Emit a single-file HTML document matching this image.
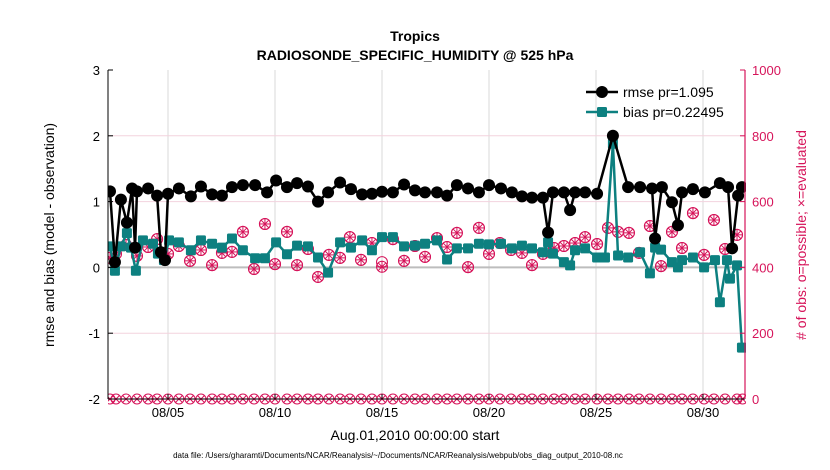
<!DOCTYPE html>
<html><head><meta charset="utf-8"><style>
html,body{margin:0;padding:0;background:#fff;}
svg{display:block;font-family:"Liberation Sans",Arial,sans-serif;}
</style></head><body>
<svg id="chart" width="830" height="470" viewBox="0 0 830 470">
<defs><clipPath id="plotclip"><rect x="108" y="66" width="638" height="340"/></clipPath></defs>
<text x="415" y="41" text-anchor="middle" font-size="14" font-weight="bold">Tropics</text>
<text x="415" y="60" text-anchor="middle" font-size="14" font-weight="bold">RADIOSONDE_SPECIFIC_HUMIDITY @ 525 hPa</text>
<g id="grid"></g>
<g id="marks" clip-path="url(#plotclip)"></g>
<g id="axes"></g>
<text transform="translate(54,235) rotate(-90)" text-anchor="middle" font-size="14">rmse and bias (model - observation)</text>
<text transform="translate(806,235) rotate(-90)" text-anchor="middle" font-size="14" fill="#d6145a"># of obs: o=possible; ×=evaluated</text>
<text x="415" y="440" text-anchor="middle" font-size="14">Aug.01,2010 00:00:00 start</text>
<text x="398" y="458" text-anchor="middle" font-size="8">data file: /Users/gharamti/Documents/NCAR/Reanalysis/~/Documents/NCAR/Reanalysis/webpub/obs_diag_output_2010-08.nc</text>
<g id="legend"></g>
</svg>
<script>
const rmseDays=[2.29,2.52,2.80,3.08,3.32,3.46,3.55,4.07,4.49,4.67,4.86,5.00,5.51,6.07,6.54,7.06,7.52,7.99,8.50,9.07,9.63,10.05,10.56,11.03,11.54,12.01,12.48,13.04,13.55,14.07,14.53,15.00,15.51,16.03,16.54,17.01,17.57,18.04,18.50,19.02,19.53,20.00,20.56,21.07,21.54,22.01,22.52,22.76,22.99,23.50,23.79,24.02,24.49,25.05,25.79,26.50,27.06,27.62,27.76,28.08,28.55,28.83,29.02,29.53,30.09,30.79,31.17,31.36,31.64,31.82];
const rmseVals=[1.155,0.08,1.03,0.68,1.20,0.30,1.155,1.20,1.09,0.23,0.11,1.12,1.20,1.08,1.23,1.11,1.09,1.22,1.25,1.25,1.14,1.32,1.22,1.28,1.23,1.00,1.14,1.29,1.19,1.11,1.12,1.15,1.14,1.26,1.17,1.14,1.14,1.09,1.25,1.20,1.14,1.25,1.20,1.14,1.08,1.06,1.06,0.53,1.14,1.14,0.87,1.14,1.14,1.12,2.00,1.22,1.22,1.20,0.44,1.22,0.99,0.64,1.14,1.19,1.14,1.28,1.22,0.29,1.09,1.22];
const biasDays=[2.29,2.52,2.80,3.08,3.27,3.50,3.83,4.30,4.53,4.81,5.05,5.51,6.07,6.54,7.06,7.52,7.99,8.50,9.07,9.53,10.05,10.56,11.03,11.54,12.01,12.48,13.04,13.55,14.07,14.53,15.00,15.51,16.03,16.54,17.01,17.57,18.04,18.50,19.02,19.53,20.00,20.56,21.07,21.54,22.01,22.52,22.76,22.99,23.50,23.79,24.02,24.49,25.05,25.42,25.79,26.03,26.50,27.06,27.52,27.76,28.04,28.55,28.83,29.02,29.53,30.05,30.56,30.79,31.12,31.26,31.59,31.82];
const biasVals=[0.32,-0.05,0.32,0.52,0.30,-0.05,0.41,0.36,0.21,0.11,0.41,0.38,0.26,0.41,0.36,0.30,0.44,0.26,0.14,0.14,0.38,0.20,0.33,0.32,0.15,-0.08,0.38,0.30,0.41,0.26,0.46,0.46,0.32,0.33,0.36,0.41,0.12,0.29,0.29,0.36,0.35,0.36,0.29,0.33,0.29,0.23,0.38,0.21,0.08,0.03,0.26,0.29,0.15,0.15,1.88,0.18,0.15,0.23,-0.09,0.30,0.27,0.08,0.00,0.11,0.15,0.00,0.11,-0.53,0.11,-0.17,0.03,-1.22];
const obsDays=[2.29,2.57,3.04,3.55,4.07,4.49,5.00,5.51,6.03,6.54,7.06,7.52,7.99,8.50,9.02,9.53,10.00,10.56,11.03,11.54,12.01,12.52,13.04,13.50,14.02,14.53,15.00,15.51,16.03,16.54,17.01,17.57,18.04,18.50,19.02,19.53,20.00,20.51,21.03,21.54,22.01,22.52,23.04,23.50,24.02,24.49,25.05,25.56,26.03,26.54,27.01,27.52,28.04,28.55,29.02,29.53,30.05,30.51,31.03,31.59];
const obsPossible=[429,441,468,435,462,486,441,465,420,453,407,444,447,508,395,532,410,508,407,456,371,438,429,492,423,474,416,486,420,465,432,489,462,505,401,520,441,474,453,444,407,441,459,465,474,492,471,520,508,505,444,526,404,508,459,565,438,544,456,499];
const obsUsed=[429,441,468,435,462,486,441,465,420,453,407,444,447,508,395,532,410,508,407,456,371,438,429,492,423,474,402,486,420,465,432,489,462,505,401,520,441,474,453,444,407,441,459,465,474,492,471,520,508,505,444,526,404,508,459,565,438,544,456,499];
const obsLowDays=[2.29,2.57,3.04,3.55,4.07,4.49,5.00,5.51,6.03,6.54,7.06,7.52,7.99,8.50,9.02,9.53,10.00,10.56,11.03,11.54,12.01,12.52,13.04,13.50,14.02,14.53,15.00,15.51,16.03,16.54,17.01,17.57,18.04,18.50,19.02,19.53,20.00,20.51,21.03,21.54,22.01,22.52,23.04,23.50,24.02,24.49,25.05,25.56,26.03,26.54,27.01,27.52,28.04,28.55,29.02,29.53,30.05,30.51,31.03,31.59,31.85];
const obsLowVals=[0,0,0,0,0,0,0,0,0,0,0,0,0,0,0,0,0,0,0,0,0,0,0,0,0,0,0,0,0,0,0,0,0,0,0,0,0,0,0,0,0,0,0,0,0,0,0,0,0,0,0,0,0,0,0,0,0,0,0,0,0];
const xTickDays=[5,10,15,20,25,30];
const xTickLabels=["08/05","08/10","08/15","08/20","08/25","08/30"];
const yTicks=[-2,-1,0,1,2,3];
const y2Ticks=[0,200,400,600,800,1000];
const legendLabels=["rmse pr=1.095","bias pr=0.22495"];

const NS="http://www.w3.org/2000/svg";
const L=108,R=745,T=70,B=399;
const xs=d=>61+21.4*d;
const ys=v=>B-(v+2)/5*(B-T);
const ys2=c=>B-c/1000*(B-T);
const PINK="#d6145a",TEAL="#0d8080";
function mk(tag,attrs,parent){const e=document.createElementNS(NS,tag);for(const k in attrs)e.setAttribute(k,attrs[k]);parent.appendChild(e);return e;}
const grid=document.getElementById('grid'),marks=document.getElementById('marks'),axes=document.getElementById('axes'),legend=document.getElementById('legend');

xTickDays.forEach((d,i)=>{
  const g=mk('line',{x1:xs(d),x2:xs(d),y1:T,y2:B,stroke:'#d8d8d8','stroke-width':1},grid);
  
  
  const t=mk('line',{x1:xs(d),x2:xs(d),y1:B,y2:B-5,stroke:'#000'},axes);
  
  
  const tx=mk('text',{x:xs(d),y:B+18,'text-anchor':'middle','font-size':13},axes);
  tx.textContent=xTickLabels[i];
  
  
});
y2Ticks.forEach(c=>{
  if(c>0&&c<1000){const g=mk('line',{x1:L,x2:R,y1:ys2(c),y2:ys2(c),stroke:'#f3d3de','stroke-width':1},grid);
  
  }
  const t=mk('line',{x1:R,x2:R-5,y1:ys2(c),y2:ys2(c),stroke:PINK},axes);
  
  
  const tx=mk('text',{x:R+7,y:ys2(c)+5,'font-size':13,fill:PINK},axes);
  tx.textContent=c;
  
  
});
const z=mk('line',{x1:L,x2:R,y1:ys(0),y2:ys(0),stroke:'#bdbdbd','stroke-width':2},grid);


yTicks.forEach(v=>{
  const t=mk('line',{x1:L,x2:L+5,y1:ys(v),y2:ys(v),stroke:'#000'},axes);
  
  
  const tx=mk('text',{x:L-8,y:ys(v)+5,'text-anchor':'end','font-size':13},axes);
  tx.textContent=v;
  
  
});
const la=mk('line',{x1:L,x2:L,y1:T,y2:B,stroke:'#000'},axes);


const ba=mk('line',{x1:L,x2:R,y1:B,y2:B,stroke:'#000'},axes);


const ra=mk('line',{x1:R,x2:R,y1:T,y2:B,stroke:PINK,'stroke-width':1.2},axes);



function obsMarker(x,y,used,parent,name){
  const g=mk('g',{stroke:PINK,'stroke-width':1,fill:'none'},parent);
  
  
  mk('circle',{cx:x,cy:y,r:5.5},g);
  if(used){
    mk('line',{x1:x-5,x2:x+5,y1:y,y2:y},g);
    mk('line',{x1:x,x2:x,y1:y-6,y2:y+6},g);
    mk('line',{x1:x-3.8,x2:x+3.8,y1:y-3.8,y2:y+3.8},g);
    mk('line',{x1:x-3.8,x2:x+3.8,y1:y+3.8,y2:y-3.8},g);
  }
}
obsDays.forEach((d,i)=>{
  obsMarker(xs(d),ys2(obsPossible[i]),false,marks,'obs-possible-marker');
  obsMarker(xs(d),ys2(obsUsed[i]),true,marks,'obs-evaluated-marker');
});
obsLowDays.forEach((d,i)=>{
  const x=xs(d),y=ys2(obsLowVals[i]);
  const g=mk('g',{stroke:PINK,'stroke-width':1,fill:'none'},marks);
  
  
  mk('circle',{cx:x,cy:y,r:5},g);
  mk('line',{x1:x-3.5,x2:x+3.5,y1:y-3.5,y2:y+3.5},g);
  mk('line',{x1:x-3.5,x2:x+3.5,y1:y+3.5,y2:y-3.5},g);
});

const bp=mk('polyline',{points:biasDays.map((d,i)=>xs(d)+','+ys(biasVals[i])).join(' '),fill:'none',stroke:TEAL,'stroke-width':2.5},marks);


biasDays.forEach((d,i)=>{
  const r=mk('rect',{x:xs(d)-5,y:ys(biasVals[i])-5,width:10,height:10,rx:1.5,fill:TEAL},marks);
  
  
});
const rp=mk('polyline',{points:rmseDays.map((d,i)=>xs(d)+','+ys(rmseVals[i])).join(' '),fill:'none',stroke:'#000','stroke-width':2.5},marks);


rmseDays.forEach((d,i)=>{
  const c=mk('circle',{cx:xs(d),cy:ys(rmseVals[i]),r:6,fill:'#000'},marks);
  
  
});

legendLabels.forEach((lab,i)=>{
  const y=92+i*20;
  const g=mk('g',{},legend);
  
  
  const col=i===0?'#000':TEAL;
  mk('line',{x1:586,x2:618,y1:y,y2:y,stroke:col,'stroke-width':2.5},g);
  if(i===0)mk('circle',{cx:602,cy:y,r:6,fill:col},g);
  else mk('rect',{x:597,y:y-5,width:10,height:10,rx:1.5,fill:col},g);
  const t=mk('text',{x:623,y:y+5,'font-size':14},g);
  t.textContent=lab;
});
</script>
</body></html>
